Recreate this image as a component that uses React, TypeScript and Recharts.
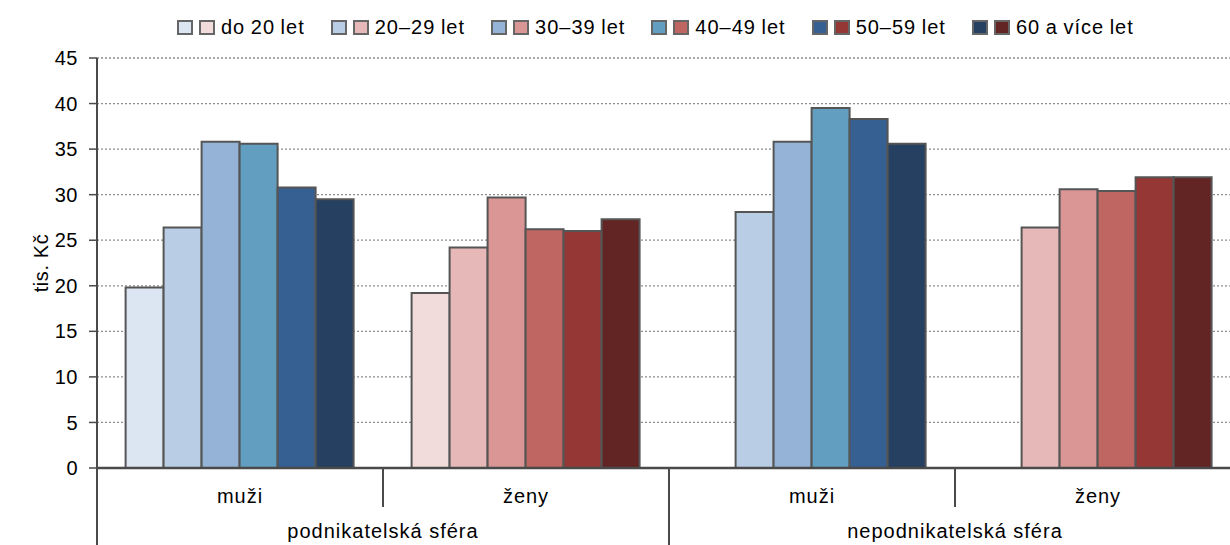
import React from 'react';
import { BarChart, Bar, XAxis, YAxis, CartesianGrid, Cell } from 'recharts';

// ---- data ----
const categories = ['muži', 'ženy', 'muži', 'ženy'];
const genders = ['m', 'f', 'm', 'f'];
const sectors = ['podnikatelská sféra', 'nepodnikatelská sféra'];
const ageGroups = ['do 20 let', '20–29 let', '30–39 let', '40–49 let', '50–59 let', '60 a více let'];
const yTicks = [0, 5, 10, 15, 20, 25, 30, 35, 40, 45];

const ageDo20: (number | null)[] = [19.8, 19.2, null, null];
const age20_29: (number | null)[] = [26.4, 24.2, 28.1, 26.4];
const age30_39: (number | null)[] = [35.8, 29.7, 35.8, 30.6];
const age40_49: (number | null)[] = [35.6, 26.2, 39.5, 30.4];
const age50_59: (number | null)[] = [30.8, 26.0, 38.3, 31.9];
const age60plus: (number | null)[] = [29.5, 27.3, 35.6, 31.9];

const menColors = ['#DCE6F2', '#B9CDE5', '#95B3D7', '#629EBF', '#366092', '#254061'];
const womenColors = ['#F2DCDB', '#E6B9B8', '#D99694', '#BF6663', '#953735', '#632523'];

const seriesValues = [ageDo20, age20_29, age30_39, age40_49, age50_59, age60plus];

const data = categories.map((c, i) => {
  const row: Record<string, any> = { key: `c${i}` };
  seriesValues.forEach((s, j) => {
    row[`s${j}`] = s[i];
  });
  return row;
});

// ---- layout ----
const CHART_W = 1245;
const CHART_H = 545;
const MARGIN = { top: 58, right: 4, left: 0, bottom: 0 };
const Y_AXIS_W = 97;
const X_AXIS_H = 77;
const PLOT_BOTTOM = CHART_H - MARGIN.bottom - X_AXIS_H;
const PLOT_W = CHART_W - MARGIN.left - MARGIN.right - Y_AXIS_W;
const BAND = PLOT_W / categories.length;
const FONT = '"Liberation Sans", Arial, sans-serif';
const FS = 20;
const LS = 1;
const AXIS_COLOR = '#4a4a4a';

const XTick = (props: any) => {
  const { x, payload } = props;
  const i: number = props.index ?? payload.index;
  const half = BAND / 2;
  const bx = x + half;
  const sectorEnd = i % 2 === 1;
  return (
    <g>
      <text x={x} y={503} textAnchor="middle" fontSize={FS} letterSpacing={LS} fill="#000" fontFamily={FONT}>
        {categories[i]}
      </text>
      <line x1={bx} y1={PLOT_BOTTOM} x2={bx} y2={sectorEnd ? CHART_H : 507} stroke={AXIS_COLOR} strokeWidth={2} />
      {i === 0 && (
        <line x1={x - half} y1={PLOT_BOTTOM} x2={x - half} y2={CHART_H} stroke={AXIS_COLOR} strokeWidth={2} />
      )}
      {i % 2 === 0 && (
        <text x={bx} y={538} textAnchor="middle" fontSize={FS} letterSpacing={LS} fill="#000" fontFamily={FONT}>
          {sectors[i / 2]}
        </text>
      )}
    </g>
  );
};

const YLabel = () => {
  const cy = (MARGIN.top + PLOT_BOTTOM) / 2;
  const cx = 41;
  return (
    <text
      x={cx}
      y={cy}
      transform={`rotate(-90 ${cx} ${cy})`}
      textAnchor="middle"
      dominantBaseline="central"
      fontSize={FS}
      letterSpacing={0.6}
      fill="#000"
      fontFamily={FONT}
    >
      tis. Kč
    </text>
  );
};

const LegendBox = () => (
  <div
    style={{
      position: 'absolute',
      left: 177,
      top: 20,
      display: 'flex',
      alignItems: 'center',
      gap: 26,
      fontFamily: FONT,
      fontSize: FS,
      letterSpacing: LS,
      wordSpacing: -1,
      color: '#000',
      whiteSpace: 'nowrap',
      lineHeight: '15px',
    }}
  >
    {ageGroups.map((g, j) => (
      <div key={g} style={{ display: 'flex', alignItems: 'center' }}>
        <span
          style={{
            display: 'inline-block',
            width: 16,
            height: 15,
            boxSizing: 'border-box',
            border: '2px solid #666',
            background: menColors[j],
          }}
        />
        <span
          style={{
            display: 'inline-block',
            width: 16,
            height: 15,
            marginLeft: 6,
            boxSizing: 'border-box',
            border: '2px solid #666',
            background: womenColors[j],
          }}
        />
        <span style={{ marginLeft: 6 }}>{g}</span>
      </div>
    ))}
  </div>
);

export default function App() {
  return (
    <div
      style={{
        position: 'absolute',
        left: 0,
        top: 0,
        width: 1230,
        height: 545,
        overflow: 'hidden',
        background: '#fff',
        fontFamily: FONT,
      }}
    >
      <BarChart
        width={CHART_W}
        height={CHART_H}
        data={data}
        margin={MARGIN}
        barCategoryGap="10%"
        barGap={0}
      >
        <CartesianGrid vertical={false} stroke="#8c8c8c" strokeDasharray="2 2" strokeWidth={1.3} />
        <XAxis
          dataKey="key"
          height={X_AXIS_H}
          axisLine={{ stroke: AXIS_COLOR, strokeWidth: 2.5 }}
          tickLine={false}
          interval={0}
          tick={<XTick />}
        />
        <YAxis
          width={Y_AXIS_W}
          domain={[0, 45]}
          ticks={yTicks}
          interval={0}
          axisLine={{ stroke: AXIS_COLOR, strokeWidth: 2 }}
          tickLine={{ stroke: AXIS_COLOR, strokeWidth: 1.5 }}
          tickSize={8}
          tickMargin={11}
          tick={{ fontSize: FS, fill: '#000', fontFamily: FONT, letterSpacing: 0.5 }}
          label={{ content: <YLabel /> }}
        />
        {ageGroups.map((g, j) => (
          <Bar
            key={g}
            dataKey={`s${j}`}
            name={g}
            isAnimationActive={false}
            stroke="#555555"
            strokeWidth={2}
          >
            {data.map((row, i) => (
              <Cell key={row.key} fill={genders[i] === 'm' ? menColors[j] : womenColors[j]} />
            ))}
          </Bar>
        ))}
      </BarChart>
      <LegendBox />
    </div>
  );
}
